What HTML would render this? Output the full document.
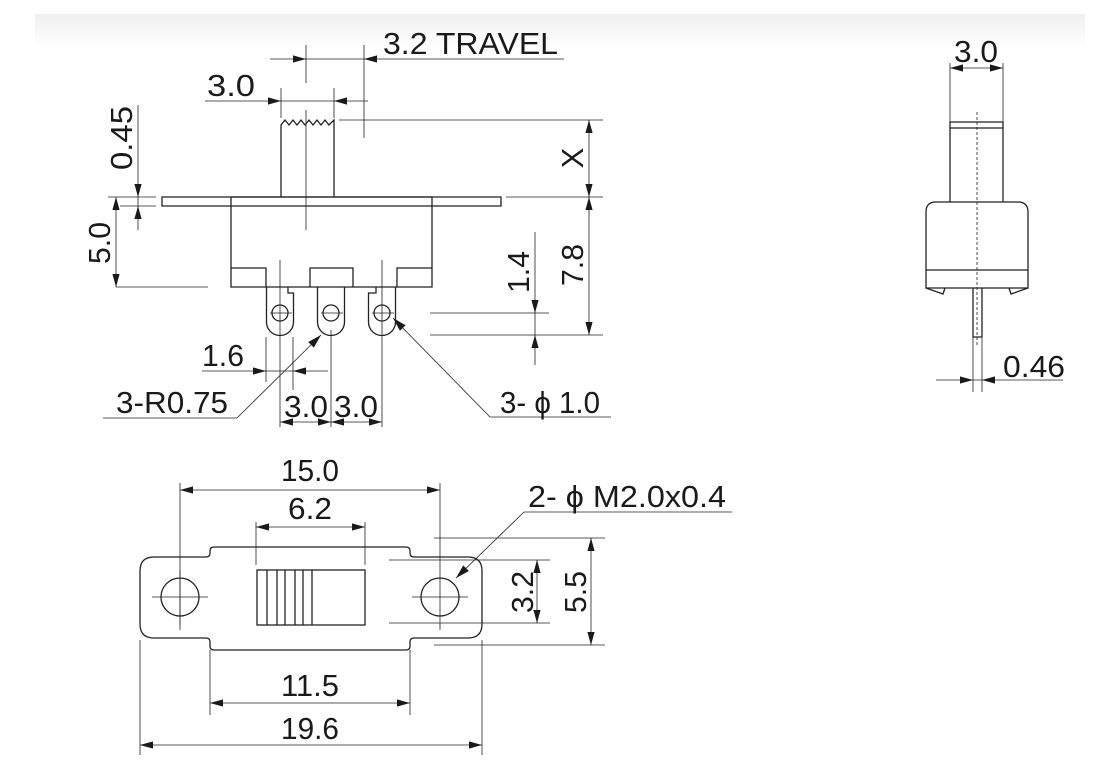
<!DOCTYPE html>
<html><head><meta charset="utf-8"><style>
html,body{margin:0;padding:0;background:#fff;}
svg{display:block;}
text{font-family:"Liberation Sans",sans-serif;fill:#1a1a1a;}
</style></head><body>
<svg id="s" width="1120" height="784" viewBox="0 0 1120 784" xmlns="http://www.w3.org/2000/svg">
<defs><linearGradient id="g" x1="0" y1="0" x2="0" y2="1"><stop offset="0" stop-color="#f0f0f0"/><stop offset="1" stop-color="#fff"/></linearGradient></defs>
<rect x="0" y="0" width="1120" height="784" fill="#fff"/>
<rect x="35" y="14" width="1050" height="34" fill="url(#g)"/>
<g id="d" fill="none" stroke="#222" stroke-width="0.8"></g>
<g id="o" fill="none" stroke="#222" stroke-width="1.3">
<path d="M231,197 H432 V287 H231 Z"/>
<path d="M162,197 H501 V206 H162 Z"/>
<path d="M281,197 V125 L285,120 L289,125 L293,120 L297,125 L301,120 L305,125 L309,120 L313,125 L317,120 L321,125 L325,120 L329,125 L334,120 V197"/>
<path d="M231,268 H266 V287 M432,268 H397 V287"/>
<path d="M310,287 V268 H353 V287"/>
<path d="M266.5,287 V322 A13.5,13.5 0 0 0 293.5,322 V293 H288 V287"/>
<path d="M317.5,287 V322 A13.5,13.5 0 0 0 344.5,322 V287"/>
<path d="M376,287 V293 H368.5 V322 A13.5,13.5 0 0 0 395.5,322 V287"/>
<circle cx="280" cy="313" r="8"/><circle cx="331" cy="313" r="8"/><circle cx="382" cy="313" r="8"/>
<path d="M950,202 V122 H1003 V202"/>
<path d="M950,128 H1003"/>
<path d="M926,212 Q926,202 936,202 H1018 Q1028,202 1028,212 V288 H926 Z"/>
<path d="M926,270 H1028"/>
<path d="M926,288 L943,294 L945,288 M1028,288 L1011,294 L1009,288"/>
<path d="M973,288 V337 H982 V288"/>
<path d="M154,557 H206 Q210,557 210,553 V551 Q210,547 214,547 H406 Q410,547 410,551 V553 Q410,557 414,557 H468 Q482,557 482,571 V624 Q482,638 468,638 H414 Q410,638 410,642 V646 Q410,650 406,650 H214 Q210,650 210,646 V642 Q210,638 206,638 H154 Q140,638 140,624 V571 Q140,557 154,557 Z"/>
<circle cx="180" cy="597" r="19"/><circle cx="440" cy="597" r="19"/>
<rect x="257" y="570" width="108" height="55"/>
<path d="M267,570V625M277,570V625M285,570V625M295,570V625M303,570V625M312,570V625"/>
</g>
<g id="a" fill="#1a1a1a" stroke="none"></g>
<g id="t"></g>
</svg>
<script>
var NS="http://www.w3.org/2000/svg";
function el(p,n,at){var e=document.createElementNS(NS,n);for(var k in at)e.setAttribute(k,at[k]);document.getElementById(p).appendChild(e);return e;}
function L(x1,y1,x2,y2,dash){var a={x1:x1,y1:y1,x2:x2,y2:y2};if(dash)a["stroke-dasharray"]="3,2";el("d","line",a);}
function A(x,y,dir){var l=13,w=3.6,p;
 if(dir=="r")p=[x,y,x-l,y-w,x-l,y+w];else if(dir=="l")p=[x,y,x+l,y-w,x+l,y+w];
 else if(dir=="d")p=[x,y,x-w,y-l,x+w,y-l];else p=[x,y,x-w,y+l,x+w,y+l];
 el("a","polygon",{points:p.join(",")});}
function AD(x,y,tx,ty){var dx=x-tx,dy=y-ty,d=Math.hypot(dx,dy),ux=dx/d,uy=dy/d,l=14,w=4;
 var bx=x-ux*l,by=y-uy*l;el("a","polygon",{points:[x,y,bx-uy*w,by+ux*w,bx+uy*w,by-ux*w].join(",")});}
function T(x,y,s,anchor,rot,len){var a={x:x,y:y,"font-size":31};if(anchor)a["text-anchor"]=anchor;
 if(rot)a.transform="rotate(-90 "+x+" "+y+")";if(len){a.textLength=len;a.lengthAdjust="spacingAndGlyphs";}
 var e=el("t","text",a);e.textContent=s;}
L(270,59,564,59);A(306,59,"r");A(364,59,"l");L(306,45,306,83);L(364,45,364,138);
T(383,54,"3.2 TRAVEL",null,0,175);
L(205,101,368,101);A(281,101,"r");A(334,101,"l");L(281,88,281,118);L(334,88,334,118);
T(207,96,"3.0",null,0,48);
L(306,110,306,230);
L(339,120,603,120);L(506,197,603,197);L(108,197,156,197);L(430,335,603,335);L(430,313,549,313);
L(589,120,589,335);A(589,120,"u");A(589,197,"d");A(589,197,"u");A(589,335,"d");
T(583,158,"X","middle",1);T(583,265,"7.8","middle",1,42);
L(535,232,535,365);A(535,313,"d");A(535,335,"u");T(529,272,"1.4","middle",1,42);
L(138,105,138,230);A(138,197,"d");A(138,206,"u");L(120,206,156,206);T(132,138,"0.45","middle",1,64);
L(116,197,116,287);A(116,197,"u");A(116,287,"d");L(116,287,208,287);T(110,243,"5.0","middle",1,42);
L(202,371,328,371);A(266,371,"r");A(293,371,"l");L(266,337,266,382);L(293,337,293,390);
T(202,366,"1.6",null,0,42);
L(280,260,280,427);L(331,330,331,427);L(382,260,382,427);
L(280,422,382,422);A(280,422,"l");A(331,422,"r");A(331,422,"l");A(382,422,"r");
T(284,417,"3.0",null,0,44);T(334,417,"3.0",null,0,44);
L(270,313,292,313);L(321,313,343,313);L(372,313,394,313);
L(321,335,237,418);L(237,418,103,418);AD(321,335,237,418);T(116,413,"3-R0.75",null,0,112);
L(393,318,490,417);L(490,417,611,417);AD(393,318,490,417);T(500,413,"3- \u03d5 1.0",null,0,100);
L(950,63,950,122);L(1003,63,1003,122);L(950,68,1003,68);A(950,68,"l");A(1003,68,"r");
T(976,62,"3.0","middle",0,44);
L(977,112,977,345,1);L(973,337,973,392);L(982,337,982,392);
L(936,380,1063,380);A(973,380,"r");A(982,380,"l");T(1003,377,"0.46",null,0,62);
L(180,483,180,630);L(440,483,440,630);L(180,490,440,490);A(180,490,"l");A(440,490,"r");
T(310,481,"15.0","middle",0,58);
L(256,522,256,565);L(365,522,365,565);L(256,527,365,527);A(256,527,"l");A(365,527,"r");
T(310,519,"6.2","middle",0,44);
L(210,650,210,715);L(410,650,410,715);L(210,703,410,703);A(210,703,"l");A(410,703,"r");
T(310,696,"11.5","middle",0,58);
L(140,640,140,755);L(482,640,482,755);L(140,745,482,745);A(140,745,"l");A(482,745,"r");
T(310,739,"19.6","middle",0,58);
L(152,597,208,597);L(412,597,468,597);L(180,570,180,625);
L(434,538,605,538);L(434,645,605,645);L(591,538,591,645);A(591,538,"u");A(591,645,"d");
T(586,592,"5.5","middle",1,42);
L(389,560,550,560);L(389,623,550,623);L(537,560,537,623);A(537,560,"u");A(537,623,"d");
T(533,592,"3.2","middle",1,42);
L(456,578,524,512);L(524,512,732,512);AD(456,578,524,512);
T(528,507,"2- \u03d5 M2.0x0.4",null,0,198);
</script>
</body></html>
